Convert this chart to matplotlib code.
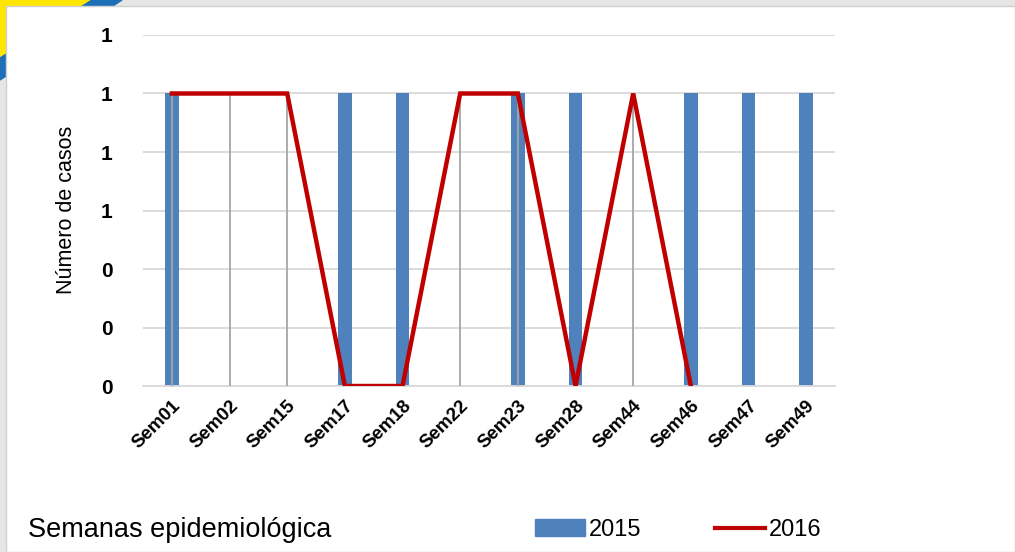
import matplotlib
matplotlib.use('Agg')
import matplotlib.pyplot as plt
from matplotlib.patches import Polygon, Rectangle
from matplotlib.lines import Line2D
import numpy as np

# data
semanas = ['Sem01', 'Sem02', 'Sem15', 'Sem17', 'Sem18', 'Sem22',
           'Sem23', 'Sem28', 'Sem44', 'Sem46', 'Sem47', 'Sem49']
casos_2015 = [1, 0, 0, 1, 1, 0, 1, 1, 0, 1, 1, 1]
casos_2016 = [1, 1, 1, 0, 0, 1, 1, 0, 1, 0, np.nan, np.nan]

BLUE = '#4F81BD'
RED = '#C00000'
FONT = 'Liberation Sans'
W, H = 1015, 552


def px(xp, yp):
    return (xp / W, 1 - yp / H)


fig = plt.figure(figsize=(10.15, 5.52), dpi=100)
fig.patch.set_facecolor('#E6E6E6')

# slide decoration: corner swoosh and white card
fig.patches.append(Polygon([px(0, 0), px(92, 0), px(0, 58)], closed=True,
                           transform=fig.transFigure, color='#FFE600', zorder=0))
fig.patches.append(Polygon([px(92, 0), px(122, 0), px(0, 80), px(0, 58)], closed=True,
                           transform=fig.transFigure, color='#1F6FB8', zorder=0))
fig.patches.append(Rectangle(px(6, H), (W - 6) / W, (H - 6) / H,
                             transform=fig.transFigure, facecolor='white',
                             edgecolor='#D0D0D0', lw=1, zorder=1))

ax = fig.add_axes([0.1409, 0.3007, 0.6818, 0.6359])
ax.set_zorder(2)
ax.patch.set_alpha(0)
x = np.arange(len(semanas))

ax.bar(x, casos_2015, width=0.24, color=BLUE, zorder=2)
# drop lines from the 2016 points
ax.vlines(x, 0, np.nan_to_num(casos_2016), color='#A6A6A6', lw=1.3, zorder=3)
ax.plot(x, casos_2016, color=RED, lw=3.2, solid_joinstyle='miter', zorder=4)

ax.set_xlim(-0.5, len(semanas) - 0.5)
ax.set_ylim(0, 1.2)
yt = np.arange(0, 1.21, 0.2)
ax.set_yticks(yt)
ax.set_yticklabels([f'{v:.0f}' for v in yt],
                   fontsize=15, fontweight='bold', family=FONT)
ax.set_xticks(x)
ax.set_xticklabels(semanas, rotation=45, ha='right', rotation_mode='anchor',
                   fontsize=13.5, fontweight='bold', family=FONT)
ax.tick_params(axis='both', length=0, pad=8)
ax.tick_params(axis='y', pad=22)
ax.grid(axis='y', color='#D9D9D9', lw=1.3, zorder=0)
for s in ['top', 'right', 'left']:
    ax.spines[s].set_visible(False)
ax.spines['bottom'].set_color('#D9D9D9')
ax.spines['bottom'].set_linewidth(1.3)

fig.text(0.066, 0.62, 'Número de casos', rotation=90, ha='center', va='center',
         fontsize=15.5, family=FONT, zorder=3)
fig.text(0.028, 0.04, 'Semanas epidemiológica', ha='left', va='center',
         fontsize=19.5, family=FONT, zorder=3)

# legend at the bottom
handles = [Rectangle((0, 0), 1, 1, color=BLUE),
           Line2D([0], [0], color=RED, lw=3)]
leg = fig.legend(handles, ['2015', '2016'], loc='center', bbox_to_anchor=(0.668, 0.04),
                 ncol=2, frameon=False, handlelength=2.15, handletextpad=0.15,
                 columnspacing=3.1, prop={'family': FONT, 'size': 17})
leg.set_zorder(3)

fig.savefig('out.png', dpi=100, facecolor=fig.get_facecolor())
